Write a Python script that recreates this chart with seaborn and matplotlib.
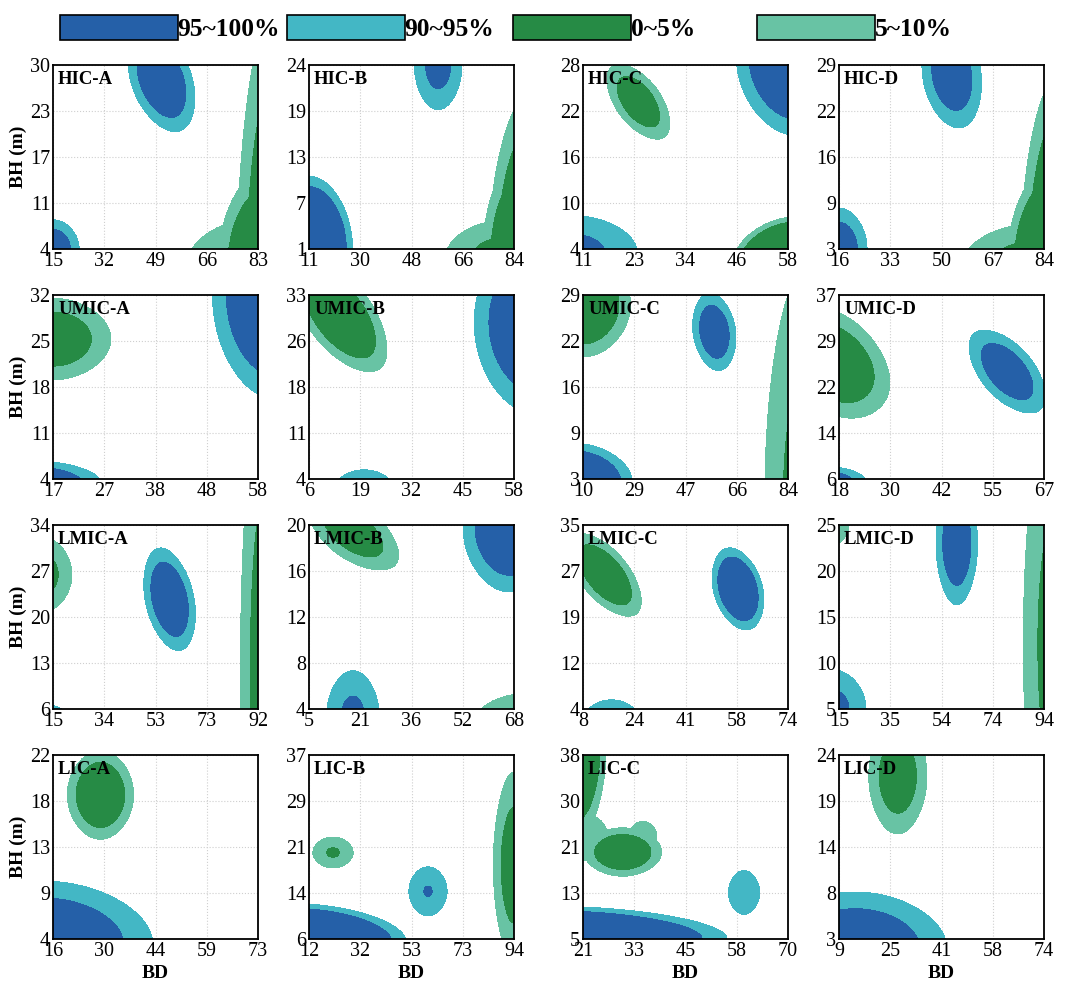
import numpy as np
import matplotlib
matplotlib.use('Agg')
import matplotlib.pyplot as plt
import seaborn as sns
from matplotlib.colors import ListedColormap
from matplotlib.patches import Patch

# names of the 16 panels and their tick labels (5 ticks, evenly placed)
panel_names = ['HIC-A', 'HIC-B', 'HIC-C', 'HIC-D',
               'UMIC-A', 'UMIC-B', 'UMIC-C', 'UMIC-D',
               'LMIC-A', 'LMIC-B', 'LMIC-C', 'LMIC-D',
               'LIC-A', 'LIC-B', 'LIC-C', 'LIC-D']

x_ticks = [[15, 32, 49, 66, 83], [11, 30, 48, 66, 84], [11, 23, 34, 46, 58], [16, 33, 50, 67, 84],
           [17, 27, 38, 48, 58], [6, 19, 32, 45, 58], [10, 29, 47, 66, 84], [18, 30, 42, 55, 67],
           [15, 34, 53, 73, 92], [5, 21, 36, 52, 68], [8, 24, 41, 58, 74], [15, 35, 54, 74, 94],
           [16, 30, 44, 59, 73], [12, 32, 53, 73, 94], [21, 33, 45, 58, 70], [9, 25, 41, 58, 74]]

y_ticks = [[4, 11, 17, 23, 30], [1, 7, 13, 19, 24], [4, 10, 16, 22, 28], [3, 9, 16, 22, 29],
           [4, 11, 18, 25, 32], [4, 11, 18, 26, 33], [3, 9, 16, 22, 29], [6, 14, 22, 29, 37],
           [6, 13, 20, 27, 34], [4, 8, 12, 16, 20], [4, 12, 19, 27, 35], [5, 10, 15, 20, 25],
           [4, 9, 13, 18, 22], [6, 14, 21, 29, 37], [5, 13, 21, 30, 38], [3, 8, 14, 19, 24]]

# sample clusters per panel: (group, BD values, BH values, inner level)
# 'hi' = 90~100% group, 'lo' = 0~10% group
hic_a = [('hi', [51, 53.9, 48.1, 55.6, 46.4], [27.9, 24.4, 31.4, 28.5, 27.3], 0.50),
         ('hi', [15, 19.2, 10.8, 15, 15], [4, 4, 4, 6, 2], 0.56),
         ('lo', [89, 95.4, 82.6, 89, 89], [-2, -2, -2, 17.6, -21.6], 0.47),
         ('lo', [80, 90.3, 69.7, 80, 80], [1, 1, 1, 4.4, -2.4], 0.67),
         ('lo', [86, 93.8, 78.2, 86, 86], [2, 2, 2, 8.4, -4.4], 0.43)]
hic_b = [('hi', [57, 61.1, 52.9, 57, 57], [24, 24, 24, 26.7, 21.3], 0.69),
         ('hi', [11, 18.5, 3.5, 11, 11], [1, 1, 1, 5.4, -3.4], 0.38),
         ('lo', [90, 97.35, 82.65, 90, 90], [-1, -1, -1, 9.3, -11.3], 0.43),
         ('lo', [80, 89.8, 70.2, 80, 80], [0, 0, 0, 2.2, -2.2], 0.69),
         ('lo', [88, 95.35, 80.65, 88, 88], [0, 0, 0, 6.37, -6.37], 0.42)]
hic_c = [('hi', [60.4, 67.3, 53.5, 60.4, 60.4], [29.2, 29.2, 29.2, 34.25, 24.15], 0.43),
         ('hi', [8.65, 15.8, 1.5, 8.65, 8.65], [3.5, 3.5, 3.5, 5.85, 1.15], 0.72),
         ('lo', [23.7, 26.62, 20.78, 25.7, 21.7], [23.2, 20.98, 25.42, 24.05, 22.35], 0.55),
         ('lo', [60.35, 67.7, 53, 60.35, 60.35], [1.6, 1.6, 1.6, 4.8, -1.6], 0.34)]
hic_d = [('hi', [53.4, 55.4, 51.4, 57.8, 49], [27.7, 24.1, 31.3, 28.5, 26.9], 0.55),
         ('hi', [16, 20.5, 11.5, 16, 16], [3, 3, 3, 5.8, 0.2], 0.57),
         ('lo', [89.4, 95.8, 83, 89.4, 89.4], [0.4, 0.4, 0.4, 13.6, -12.8], 0.43),
         ('lo', [80, 91, 69, 80, 80], [1, 1, 1, 3.65, -1.65], 0.66),
         ('lo', [88, 95.84, 80.16, 88, 88], [1, 1, 1, 7.86, -5.86], 0.38)]
umic_a = [('lo', [17, 22.6, 11.4, 17, 17], [25.3, 25.3, 25.3, 28.3, 22.3], 0.56),
          ('hi', [61.3, 67.3, 55.3, 61.3, 61.3], [32, 32, 32, 39.6, 24.4], 0.45),
          ('hi', [12.9, 19.5, 6.3, 12.9, 12.9], [3.44, 3.44, 3.44, 5.04, 1.84], 0.50)]
umic_b = [('lo', [13.8, 18.72, 8.88, 17, 10.6], [29.8, 25.73, 33.87, 31.3, 28.3], 0.47),
          ('hi', [63.2, 70.6, 55.8, 63.2, 63.2], [28.65, 28.65, 28.65, 35.55, 21.75], 0.47),
          ('hi', [20, 23.6, 16.4, 20, 20], [2.55, 2.55, 2.55, 3.95, 1.15], 1.0)]
umic_c = [('lo', [10, 18.3, 1.7, 10, 10], [27.7, 27.7, 27.7, 31.3, 24.1], 0.47),
          ('hi', [57.4, 58.4, 56.4, 61.07, 53.73], [23.8, 21.16, 26.44, 24.01, 23.59], 0.54),
          ('hi', [6.3, 16.7, -4.1, 6.3, 6.3], [2.48, 2.48, 2.48, 5.18, -0.22], 0.42),
          ('lo', [89.9, 96.8, 83, 89.9, 89.9], [0.4, 0.4, 0.4, 15.8, -15], 0.69)]
umic_d = [('lo', [17, 23.37, 10.63, 17.25, 16.75], [25.5, 23.78, 27.22, 29.67, 21.33], 0.51),
          ('hi', [58.2, 62.03, 54.37, 60.5, 55.9], [24.1, 20.99, 27.21, 25.5, 22.7], 0.55),
          ('hi', [15.55, 19.75, 11.35, 15.55, 15.55], [5.69, 5.69, 5.69, 6.82, 4.56], 0.59)]
lmic_a = [('lo', [11.15, 16.45, 5.85, 11.15, 11.15], [26.44, 26.44, 26.44, 29.18, 23.7], 0.69),
          ('hi', [58.8, 60.8, 56.8, 63.1, 54.5], [22.7, 18.94, 26.46, 23.08, 22.32], 0.50),
          ('lo', [95.1, 99.8, 90.4, 95.1, 95.1], [11.6, 11.6, 11.6, 33.6, -10.4], 0.60),
          ('hi', [11.15, 15.3, 7, 11.15, 11.15], [5.16, 5.16, 5.16, 5.91, 4.41], 1.0)]
lmic_b = [('lo', [18.5, 24.92, 12.08, 20.91, 16.09], [19.42, 18.06, 20.78, 20.33, 18.51], 0.57),
          ('hi', [66.7, 73.65, 59.75, 66.7, 66.7], [19.84, 19.84, 19.84, 22.58, 17.1], 0.48),
          ('hi', [18.5, 22.37, 14.63, 18.5, 18.5], [3.52, 3.52, 3.52, 5.36, 1.68], 0.79),
          ('lo', [71.15, 78.25, 64.05, 71.15, 71.15], [3.04, 3.04, 3.04, 4.14, 1.94], 1.0)]
lmic_c = [('lo', [15, 19.99, 10.01, 17.9, 12.1], [26.6, 23.44, 29.76, 27.85, 25.35], 0.50),
          ('hi', [57.9, 59.72, 56.08, 61.54, 54.26], [24.24, 20.94, 27.54, 24.79, 23.69], 0.45),
          ('hi', [17.2, 21.4, 13, 17.2, 17.2], [2.45, 2.45, 2.45, 3.95, 0.95], 1.0)]
lmic_d = [('lo', [13.4, 16.1, 10.7, 13.4, 13.4], [25.4, 25.4, 25.4, 26.6, 24.2], 1.0),
          ('hi', [60.4, 64.27, 56.53, 60.4, 60.4], [23, 23, 23, 26.23, 19.77], 0.54),
          ('hi', [12.6, 18.8, 6.4, 12.6, 12.6], [5, 5, 5, 7.06, 2.94], 0.73),
          ('lo', [97.2, 102.6, 91.8, 97.2, 97.2], [12, 12, 12, 24.7, -0.7], 0.72)]
lic_a = [('lo', [29.2, 33.66, 24.74, 29.2, 29.2], [18.1, 18.1, 18.1, 20.2, 16], 0.49),
         ('hi', [13.15, 27.95, -1.65, 13.15, 13.15], [3.46, 3.46, 3.46, 6.46, 0.46], 0.49)]
lic_b = [('lo', [21.6, 25.5, 17.7, 21.6, 21.6], [20.57, 20.57, 20.57, 21.83, 19.31], 0.88),
         ('hi', [59.6, 63.3, 55.9, 59.6, 59.6], [14.03, 14.03, 14.03, 16.03, 12.03], 0.94),
         ('hi', [3.8, 26.6, -19, 3.8, 3.8], [5.38, 5.38, 5.38, 8.58, 2.18], 0.36),
         ('lo', [94, 98, 90, 94, 94], [18.4, 18.4, 18.4, 26, 10.8], 0.60)]
lic_c = [('lo', [19.5, 22.9, 16.1, 19.5, 19.5], [39.65, 39.65, 39.65, 47.75, 31.55], 0.43),
         ('lo', [30.5, 35, 26, 30.5, 30.5], [20.6, 20.6, 20.6, 22.7, 18.5], 0.50),
         ('lo', [22, 24.4, 19.6, 22, 22], [23.2, 23.2, 23.2, 25.2, 21.2], 1.0),
         ('lo', [35.3, 36.9, 33.7, 35.3, 35.3], [23.6, 23.6, 23.6, 24.8, 22.4], 1.0),
         ('hi', [59.5, 61.3, 57.7, 59.5, 59.5], [13.35, 13.35, 13.35, 15.25, 11.45], 1.0),
         ('hi', [11.2, 32.6, -10.2, 11.2, 11.2], [5, 5, 5, 7.86, 2.14], 0.37)]
lic_d = [('lo', [27.65, 32.11, 23.19, 27.65, 27.65], [21.6, 21.6, 21.6, 24.8, 18.4], 0.58),
         ('hi', [14.2, 28.2, 0.2, 14.2, 14.2], [1.95, 1.95, 1.95, 5.05, -1.15], 0.52),
         ('lo', [76, 77.6, 74.4, 76, 76], [24.6, 24.6, 24.6, 25.1, 24.1], 1.0)]

panel_blobs = [hic_a, hic_b, hic_c, hic_d, umic_a, umic_b, umic_c, umic_d,
               lmic_a, lmic_b, lmic_c, lmic_d, lic_a, lic_b, lic_c, lic_d]

legend_labels = ['95~100%', '90~95%', '0~5%', '5~10%']

# colours
dark = {'hi': '#2560A8', 'lo': '#268B45'}
light = {'hi': '#43B7C5', 'lo': '#68C3A4'}

sns.set_theme(style='white')
plt.rcParams['font.family'] = ['Liberation Serif', 'DejaVu Serif']
plt.rcParams['text.color'] = 'black'
plt.rcParams['axes.labelcolor'] = 'black'

W, H = 1080, 993
fig = plt.figure(figsize=(10.8, 9.93), dpi=100)

col_left = [53, 309, 583, 839]
row_top = [65, 295, 525, 755]
ax_w, ax_h = 205, 184
outer = 0.265

for i, name in enumerate(panel_names):
    r, c = divmod(i, 4)
    ax = fig.add_axes([col_left[c] / W, 1 - (row_top[r] + ax_h) / H, ax_w / W, ax_h / H])
    blobs = panel_blobs[i]

    # outer band first, then the cores on top
    for grp, xs, ys, core in blobs:
        sns.kdeplot(x=xs, y=ys, fill=True, levels=[outer, 1.0],
                    cmap=ListedColormap([light[grp]]), bw_adjust=2.0, ax=ax)
    for grp, xs, ys, core in blobs:
        if core < 1:
            sns.kdeplot(x=xs, y=ys, fill=True, levels=[core, 1.0],
                        cmap=ListedColormap([dark[grp]]), bw_adjust=2.0, ax=ax)

    xt, yt = x_ticks[i], y_ticks[i]
    ax.set_xlim(xt[0], xt[-1])
    ax.set_ylim(yt[0], yt[-1])
    ax.set_xticks(np.linspace(xt[0], xt[-1], 5))
    ax.set_xticklabels([str(v) for v in xt])
    ax.set_yticks(np.linspace(yt[0], yt[-1], 5))
    ax.set_yticklabels([str(v) for v in yt])
    ax.tick_params(length=0, pad=2, labelsize=14.5, colors='black')
    ax.set_axisbelow(True)
    ax.grid(True, ls=':', color='#cfcfcf', lw=0.8)
    for sp in ax.spines.values():
        sp.set_color('black')
        sp.set_linewidth(1.3)
        sp.set_zorder(20)

    ax.text(0.025, 0.965, name, transform=ax.transAxes, ha='left', va='top',
            fontsize=13.5, fontweight='bold', zorder=30)

    ax.set_xlabel('BD' if r == 3 else '', fontsize=14, fontweight='bold', labelpad=3)
    ax.set_ylabel('BH (m)' if c == 0 else '', fontsize=14, fontweight='bold', labelpad=2)

# legend across the top
legend_x = [60, 287, 513, 757]
legend_cols = [dark['hi'], light['hi'], dark['lo'], light['lo']]
for lx, lab, col in zip(legend_x, legend_labels, legend_cols):
    h = Patch(facecolor=col, edgecolor='black', linewidth=1.2)
    fig.legend([h], [lab], loc='center left', bbox_to_anchor=(lx / W, 1 - 28 / H),
               frameon=False, borderpad=0, borderaxespad=0, handlelength=4.6,
               handleheight=1.1, handletextpad=0.0,
               prop={'family': 'Liberation Serif', 'weight': 'bold', 'size': 18.4})

fig.savefig('out.png', dpi=100)
